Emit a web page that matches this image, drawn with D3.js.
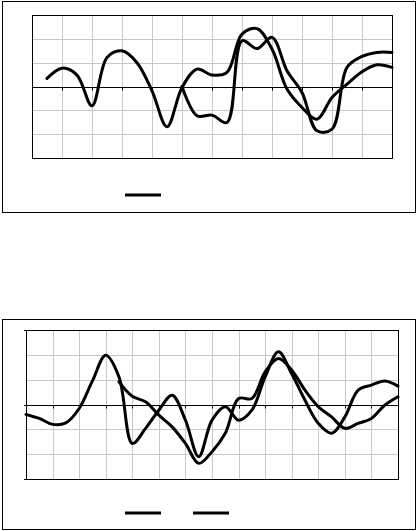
<!DOCTYPE html>
<html><head><meta charset="utf-8">
<script src="https://cdn.jsdelivr.net/npm/d3@7/dist/d3.min.js"></script>
<style>html,body{margin:0;padding:0;background:#fff;}svg{display:block;}</style>
</head><body>
<script>
// Top chart data (index step = half category interval)
const topIndex = d3.range(0, 25);
const topSeriesA = [null, 0.34, 0.77, 0.48, -0.81, 1.22, 1.50, 1.00, -0.18, -1.69, -0.04, 0.73, 0.48, 0.59, 2.20, 2.43, 1.57, -0.11, -0.88, -1.37, -0.46, 0.10, 0.62, 0.91, 0.80];
const topSeriesB = [null, null, null, null, null, null, null, null, null, null, 0.0, -1.23, -1.20, -1.51, 1.92, 1.59, 2.06, 0.66, -0.25, -1.86, -1.79, 0.80, 1.26, 1.43, 1.43];
const topYTicks = [-3, -2, -1, 0, 1, 2, 3];

// Bottom chart data
const botIndex = d3.range(0, 29);
const botSeriesC = [-0.40, -0.56, -0.80, -0.74, -0.16, 0.95, 1.98, 1.11, -1.57, -0.96, -0.23, 0.37, -0.63, -2.10, -0.63, -0.09, -0.63, -0.23, 1.11, 2.12, 1.24, 0.17, -0.76, -1.16, -0.50, 0.58, 0.78, 0.95, 0.74];
const botSeriesD = [null, null, null, null, null, null, null, 0.91, 0.33, 0.11, -0.43, -0.90, -1.57, -2.37, -1.90, -1.16, 0.24, 0.24, 1.31, 1.85, 1.38, 0.58, -0.09, -0.50, -0.96, -0.76, -0.56, -0.03, 0.31];
const botYTicks = [-3, -2, -1, 0, 1, 2, 3];

const svg = d3.select("body").append("svg").attr("width", 417).attr("height", 531);

function drawChart(cfg) {
  const g = svg.append("g");
  // outer frame
  g.append("rect").attr("x", cfg.frame[0]).attr("y", cfg.frame[1])
    .attr("width", cfg.frame[2]).attr("height", cfg.frame[3])
    .attr("fill", "#fff").attr("stroke", "#000").attr("stroke-width", 1);
  const x = d3.scaleLinear().domain([0, cfg.n]).range([cfg.plot[0], cfg.plot[2]]);
  const y = d3.scaleLinear().domain([-3, 3]).range([cfg.plot[3], cfg.plot[1]]);
  // gridlines vertical (every category = 2 index steps)
  const vTicks = d3.range(2, cfg.n, 2);
  g.append("g").selectAll("line").data(vTicks).join("line")
    .attr("x1", d => Math.round(x(d)) + 0.5).attr("x2", d => Math.round(x(d)) + 0.5)
    .attr("y1", y(3)).attr("y2", y(-3))
    .attr("stroke", "#c8c8c8").attr("stroke-width", 1);
  g.append("g").selectAll("line").data(cfg.yTicks.filter(t => t !== 0 && Math.abs(t) !== 3)).join("line")
    .attr("x1", x(0)).attr("x2", x(cfg.n))
    .attr("y1", d => Math.round(y(d)) + 0.5).attr("y2", d => Math.round(y(d)) + 0.5)
    .attr("stroke", "#c8c8c8").attr("stroke-width", 1);
  // plot border
  g.append("rect").attr("x", Math.round(x(0)) + 0.5).attr("y", Math.round(y(3)) + 0.5)
    .attr("width", Math.round(x(cfg.n)) - Math.round(x(0))).attr("height", Math.round(y(-3)) - Math.round(y(3)))
    .attr("fill", "none").attr("stroke", "#000").attr("stroke-width", 1);
  // zero axis with ticks
  const y0 = Math.round(y(0)) + 0.5;
  g.append("line").attr("x1", x(0)).attr("x2", x(cfg.n)).attr("y1", y0).attr("y2", y0)
    .attr("stroke", "#000").attr("stroke-width", 1);
  g.append("g").selectAll("line").data(vTicks).join("line")
    .attr("x1", d => Math.round(x(d)) + 0.5).attr("x2", d => Math.round(x(d)) + 0.5)
    .attr("y1", y0).attr("y2", y0 + 3)
    .attr("stroke", "#000").attr("stroke-width", 1);
  if (cfg.leftTicks) {
    g.append("g").selectAll("line").data([-3, 0, 3]).join("line")
      .attr("x1", Math.round(x(0)) - 2).attr("x2", Math.round(x(0)) + 0.5)
      .attr("y1", d => Math.round(y(d)) + 0.5).attr("y2", d => Math.round(y(d)) + 0.5)
      .attr("stroke", "#000").attr("stroke-width", 1);
  }
  const line = d3.line()
    .defined(d => d[1] !== null)
    .x(d => x(d[0])).y(d => y(d[1]))
    .curve(d3.curveCatmullRom.alpha(0.5));
  cfg.series.forEach(s => {
    g.append("path").datum(s.map((v, i) => [cfg.index[i], v]))
      .attr("d", line).attr("fill", "none")
      .attr("stroke", "#000").attr("stroke-width", 3)
      .attr("stroke-linejoin", "round").attr("stroke-linecap", "round");
  });
  // legend keys
  cfg.legend.forEach(l => {
    g.append("line").attr("x1", l[0]).attr("x2", l[1]).attr("y1", l[2]).attr("y2", l[2])
      .attr("stroke", "#000").attr("stroke-width", 3);
  });
}

drawChart({
  frame: [2.5, 1.5, 413, 211],
  plot: [32, 15, 392, 158],
  n: 24, index: topIndex, yTicks: topYTicks,
  series: [topSeriesA, topSeriesB],
  legend: [[125, 161, 195]],
  leftTicks: false
});
drawChart({
  frame: [2.5, 319.5, 413, 210],
  plot: [26, 330, 398, 479],
  n: 28, index: botIndex, yTicks: botYTicks,
  series: [botSeriesC, botSeriesD],
  legend: [[125, 161, 513], [193, 229, 513]],
  leftTicks: true
});
</script>
</body></html>
